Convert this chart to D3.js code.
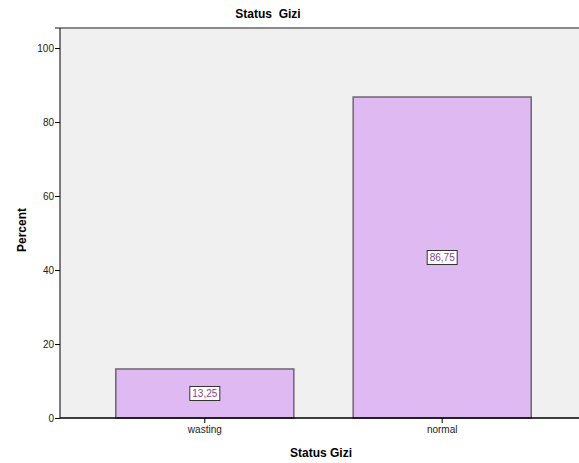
<!DOCTYPE html>
<html>
<head>
<meta charset="utf-8">
<script src="https://cdn.jsdelivr.net/npm/d3@7"></script>
<style>
  body { margin: 0; background: #fff; }
  text { font-family: Arial, "Liberation Sans", sans-serif; }
</style>
</head>
<body>
<div id="chart"></div>
<script>
// chart data
var categories = ["wasting", "normal"];
var percents = [13.25, 86.75];
var yTicks = [0, 20, 40, 60, 80, 100];

var w = 579;
var h = 463;

var svg = d3
  .select("#chart")
  .append("svg")
  .attr("width", w)
  .attr("height", h);

var plotLeft = 60, plotTop = 28, plotBottom = 418, plotRight = 587;

var xScale = d3
  .scaleBand()
  .domain(categories)
  .range([plotLeft, plotRight])
  .paddingInner(0.25)
  .paddingOuter(0.235);

var yScale = d3.scaleLinear().domain([0, 100]).range([plotBottom, 48]);

// plot background
svg
  .append("rect")
  .attr("x", plotLeft)
  .attr("y", plotTop)
  .attr("width", plotRight - plotLeft)
  .attr("height", plotBottom - plotTop)
  .attr("fill", "#f0f0f0");

svg
  .append("line")
  .attr("x1", plotLeft - 5)
  .attr("x2", w)
  .attr("y1", plotTop)
  .attr("y2", plotTop)
  .attr("stroke", "#8a8a8a")
  .attr("stroke-width", 2);

// bars
svg
  .selectAll(".bar")
  .data(categories)
  .enter()
  .append("rect")
  .attr("class", "bar")
  .attr("x", function (d) { return xScale(d); })
  .attr("y", function (d, i) { return yScale(percents[i]); })
  .attr("width", xScale.bandwidth())
  .attr("height", function (d, i) { return plotBottom - yScale(percents[i]); })
  .attr("fill", "#dfb9f1")
  .attr("stroke", "#6e6470")
  .attr("stroke-width", 1.5);

// value labels
var labels = svg
  .selectAll(".label")
  .data(categories)
  .enter()
  .append("g")
  .attr("class", "label")
  .attr("transform", function (d, i) {
    var cx = xScale(d) + xScale.bandwidth() / 2;
    var cy = (yScale(percents[i]) + plotBottom) / 2;
    return "translate(" + cx + "," + cy + ")";
  });

labels
  .append("rect")
  .attr("x", -15)
  .attr("y", -7)
  .attr("width", 30)
  .attr("height", 14)
  .attr("fill", "#fff")
  .attr("stroke", "#333")
  .attr("stroke-width", 1);

labels
  .append("text")
  .attr("text-anchor", "middle")
  .attr("dy", "0.35em")
  .style("font-size", "10px")
  .attr("fill", "#8a3f86")
  .text(function (d, i) { return percents[i].toFixed(2).replace(".", ","); });

// axes
var yAxis = d3.axisLeft(yScale).tickValues(yTicks).tickSize(5).tickPadding(1);
var gy = svg
  .append("g")
  .attr("transform", "translate(" + plotLeft + ",0)")
  .call(yAxis);
gy.select(".domain").attr("d", "M0," + plotTop + "V" + plotBottom).attr("stroke", "#000");
gy.selectAll(".tick line").attr("stroke", "#000");
gy.selectAll(".tick text").style("font-size", "10px").attr("fill", "#222");

var xAxis = d3.axisBottom(xScale).tickSize(5).tickPadding(3);
var gx = svg
  .append("g")
  .attr("transform", "translate(0," + plotBottom + ")")
  .call(xAxis);
gx.select(".domain").attr("d", "M" + plotLeft + ",0H" + w).attr("stroke", "#000").attr("stroke-width", 1.5);
gx.selectAll(".tick line").attr("stroke", "#000");
gx.selectAll(".tick text").style("font-size", "10px").attr("fill", "#222");

// titles
svg
  .append("text")
  .attr("x", 268)
  .attr("y", 18)
  .attr("text-anchor", "middle")
  .style("font-size", "12px")
  .style("font-weight", "bold")
  .style("white-space", "pre")
  .text("Status  Gizi");

svg
  .append("text")
  .attr("x", 321)
  .attr("y", 457)
  .attr("text-anchor", "middle")
  .style("font-size", "12px")
  .style("font-weight", "bold")
  .text("Status Gizi");

svg
  .append("text")
  .attr("transform", "translate(26,230) rotate(-90)")
  .attr("text-anchor", "middle")
  .style("font-size", "12px")
  .style("font-weight", "bold")
  .text("Percent");
</script>
</body>
</html>
